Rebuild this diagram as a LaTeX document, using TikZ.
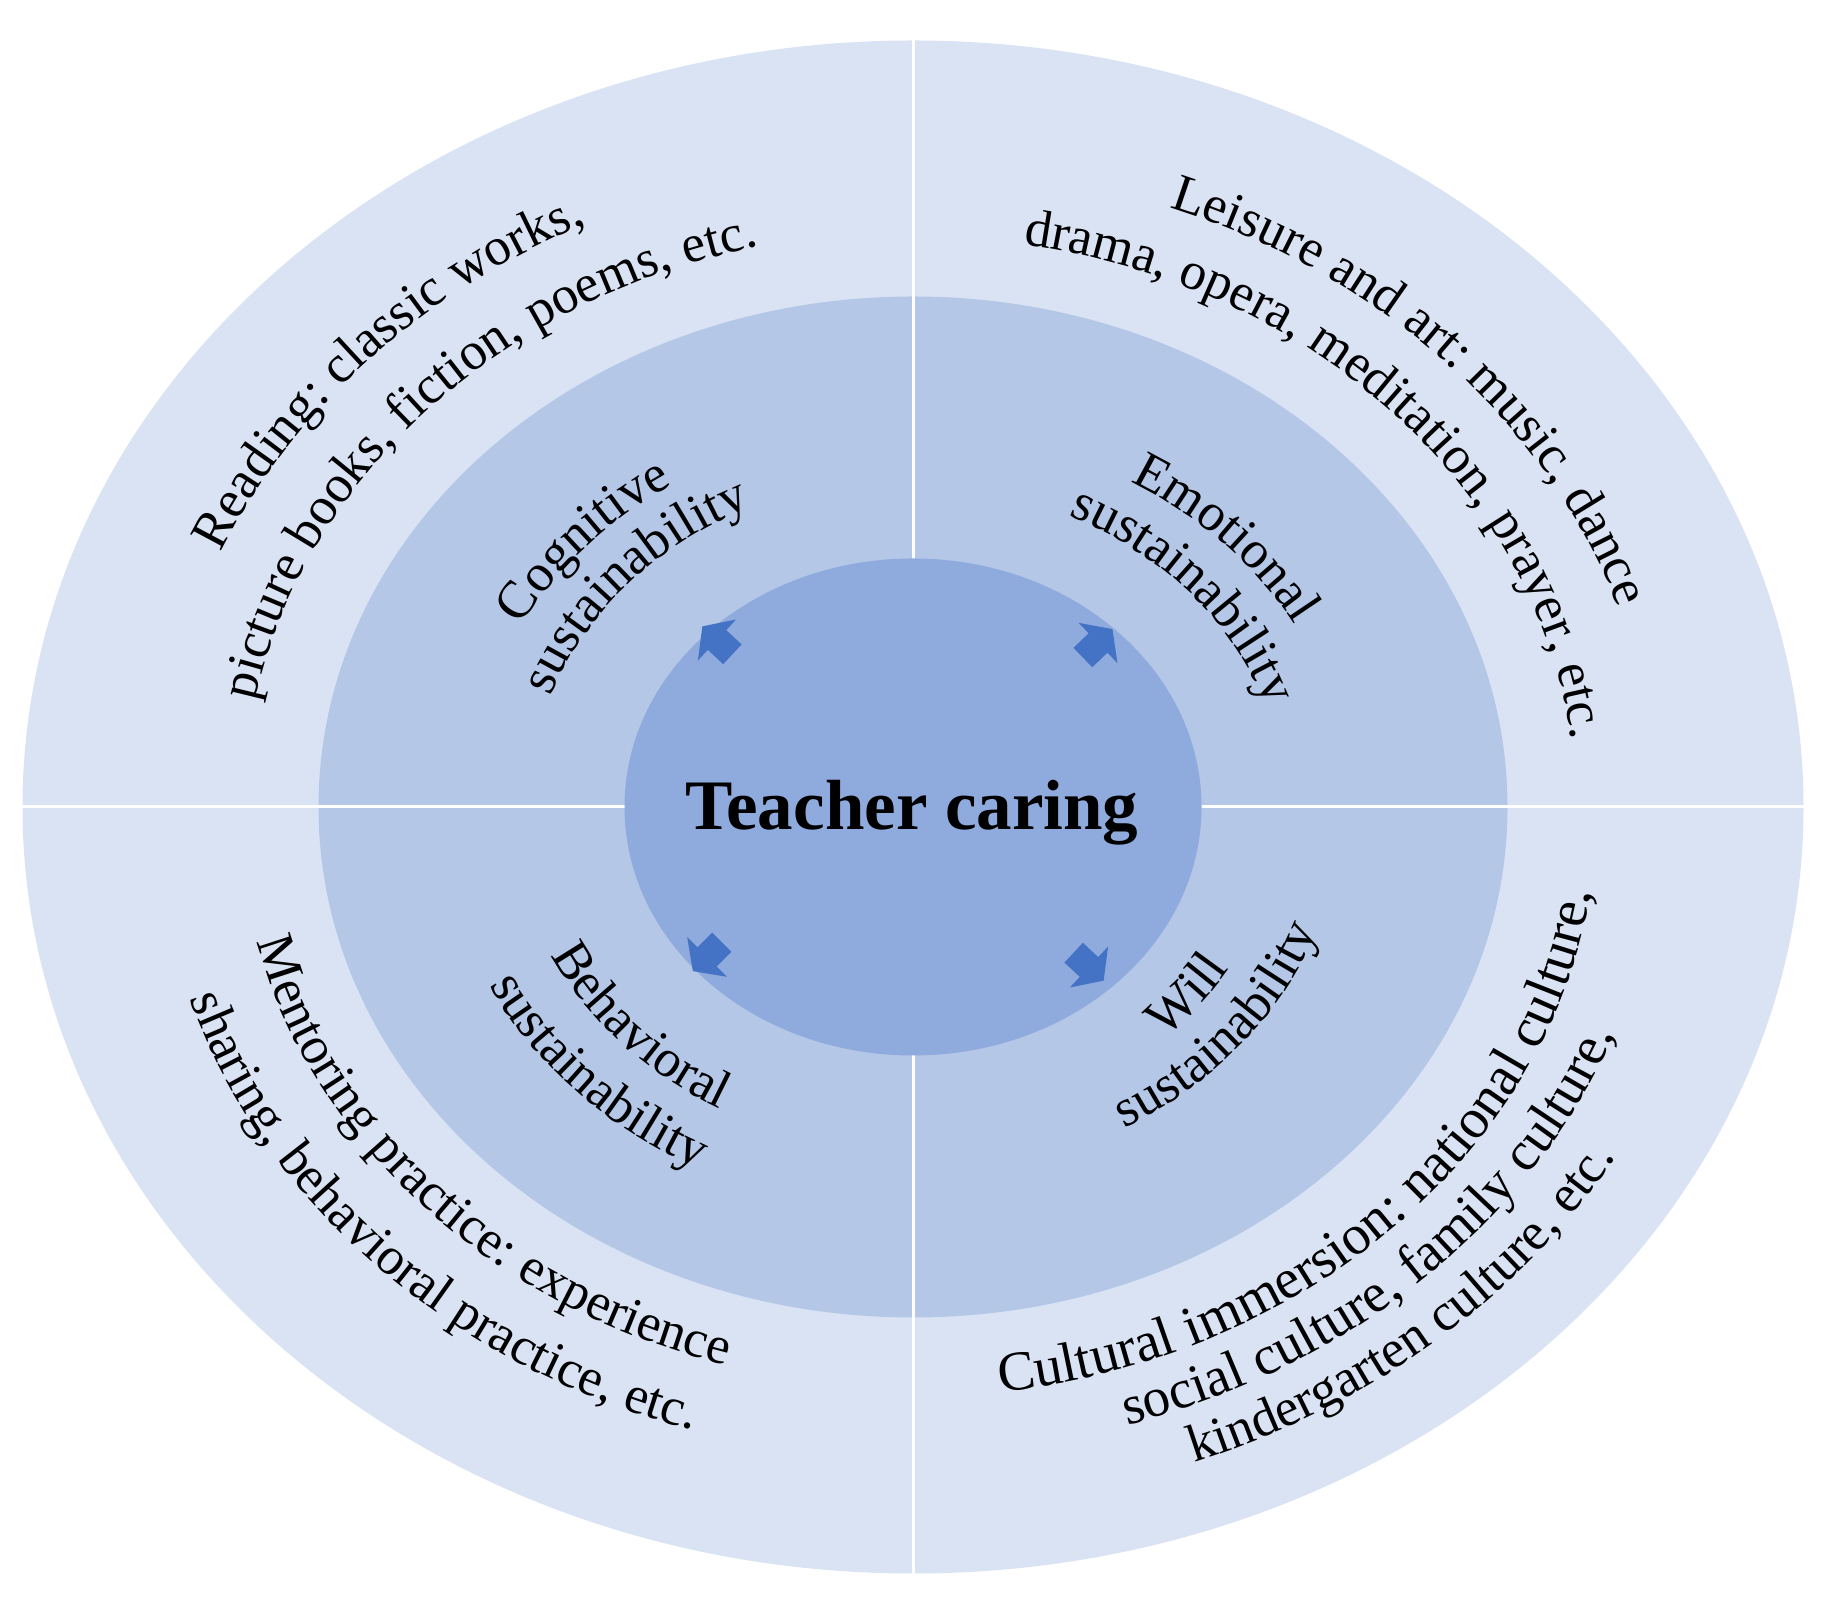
\documentclass[tikz,border=0pt]{standalone}
\usepackage{fontspec}
\setmainfont{Liberation Serif}
\usetikzlibrary{decorations.text,shapes.geometric}
\definecolor{ringout}{HTML}{DAE3F3}
\definecolor{ringmid}{HTML}{B4C7E7}
\definecolor{ringin}{HTML}{8FAADC}
\definecolor{arrowc}{HTML}{4472C4}
\newcommand\lblfont{\fontsize{53}{60}\selectfont}
% text along an elliptical arc round C; [font] #2 centre angle of the text, #3 scale k, #4 span, #5 text
% the path angle is shifted so that the text centre (arc-length midpoint) falls at #2
\newcommand\myarcprep[2]{%
  \pgfmathsetmacro\myArcD{0.2592*sin(#1)*cos(#1)/(1-0.2592*cos(#1)^2)*(#2/2)^2*pi/360}%
  \pgfmathsetmacro\myArcA{#1-\myArcD+#2/2}%
  \pgfmathsetmacro\myArcB{#1-\myArcD-#2/2}}
\newcommand\cwtext[5][\lblfont]{% clockwise: letter tops outward
  \myarcprep{#2}{#4}%
  \path[decorate,decoration={text along path,text align=center,text={|#1|#5}}]
   (C) ++(\myArcA:{#3*890pt} and {#3*766pt})
   arc[start angle=\myArcA,end angle=\myArcB,x radius={#3*890pt},y radius={#3*766pt}];}
\newcommand\ccwtext[5][\lblfont]{% counter-clockwise: letter tops inward
  \myarcprep{#2}{#4}%
  \path[decorate,decoration={text along path,text align=center,text={|#1|#5}}]
   (C) ++(\myArcB:{#3*890pt} and {#3*766pt})
   arc[start angle=\myArcB,end angle=\myArcA,x radius={#3*890pt},y radius={#3*766pt}];}
\newcommand\blockarrow[3]{%
  \fill[arrowc,shift={(#1,#2)},rotate=#3]
   (20,0) -- (0,28) -- (0,13.5) -- (-21,13.5) -- (-21,-13.5) -- (0,-13.5) -- (0,-28) -- cycle;}
\begin{document}
\begin{tikzpicture}[x=1pt,y=1pt,
  ring/.style={ellipse,inner sep=0pt,draw=none},
  divider/.style={draw=white,line width=3pt}]
\useasboundingbox (0,0) rectangle (1831,1600);
\coordinate (C) at (913,793);
\node[ring,fill=ringout,minimum width=1781pt,minimum height=1533pt] (outer) at (C) {};
\node[ring,fill=ringmid,minimum width=1189pt,minimum height=1021pt] (middle) at (C) {};
\draw[divider] (outer.north) -- (outer.south);
\draw[divider] (outer.west) -- (outer.east);
\node[ring,fill=ringin,minimum width=577pt,minimum height=497pt] (inner) at (C) {};
\node[font=\fontsize{71}{80}\selectfont\bfseries,anchor=base,inner sep=0pt] (tc) at (912,770) {Teacher caring};
% arrows
\blockarrow{717}{960}{137}
\blockarrow{1098}{957}{44}
\blockarrow{707}{643}{225}
\blockarrow{1089}{633}{-43}
% top-left
\cwtext{135.3}{0.845}{90}{Reading: classic works,}
\cwtext{134.6}{0.752}{90}{picture books, fiction, poems, etc.}
\cwtext{136.4}{0.5}{90}{Cognitive}
\cwtext{136.6}{0.432}{90}{sustainability}
% top-right
\cwtext{45.3}{0.834}{90}{Leisure and art: music, dance}
\cwtext{45.6}{0.745}{90}{drama, opera, meditation, prayer, etc.}
\cwtext{45.4}{0.49}{90}{Emotional}
\cwtext{43}{0.418}{90}{sustainability}
% bottom-left
\ccwtext{225.2}{0.758}{90}{Mentoring practice: experience}
\ccwtext{226.5}{0.85}{90}{sharing, behavioral practice, etc.}
\ccwtext{224.2}{0.45}{90}{Behavioral}
\ccwtext{225.4}{0.53}{90}{sustainability}
% bottom-right
\ccwtext[\fontsize{56}{60}\selectfont]{-47.5}{0.77}{90}{Cultural immersion: national culture,}
\ccwtext[\fontsize{55}{60}\selectfont]{-48.3}{0.842}{90}{social culture, family culture,}
\ccwtext{-50.8}{0.912}{90}{kindergarten culture, etc.}
\ccwtext{-39.4}{0.413}{90}{Will}
\ccwtext{-41}{0.482}{90}{sustainability}
\end{tikzpicture}
\end{document}
